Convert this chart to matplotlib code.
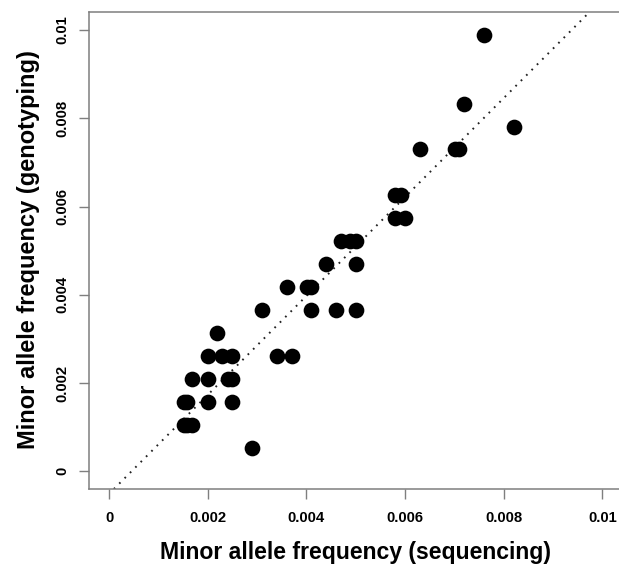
import matplotlib
matplotlib.use("Agg")
import matplotlib.pyplot as plt

# Genotyping minor allele counts (out of 1920 chromosomes) and sequencing MAF
geno_counts = [1,
               2, 2, 2,
               3, 3, 3, 3,
               4, 4, 4, 4,
               5, 5, 5, 5, 5,
               6,
               7, 7, 7, 7,
               8, 8, 8,
               9, 9,
               10, 10, 10,
               11, 11,
               12, 12,
               14, 14, 14,
               15, 16, 19]
seq_maf = [0.00289,
           0.00151, 0.00159, 0.00168,
           0.00151, 0.00159, 0.00200, 0.00250,
           0.00169, 0.00200, 0.00241, 0.00250,
           0.00200, 0.00229, 0.00250, 0.00340, 0.00370,
           0.00219,
           0.00309, 0.00409, 0.00460, 0.00500,
           0.00360, 0.00401, 0.00410,
           0.00440, 0.00500,
           0.00470, 0.00488, 0.00500,
           0.00580, 0.00600,
           0.00580, 0.00591,
           0.00630, 0.00701, 0.00710,
           0.00820, 0.00720, 0.00760]
n_chrom = 1920
geno_maf = [k / n_chrom for k in geno_counts]

fit_intercept = -0.00051
fit_slope = 1.121

tick_vals = [0, 0.002, 0.004, 0.006, 0.008, 0.01]
tick_labels = ["0", "0.002", "0.004", "0.006", "0.008", "0.01"]

xlabel = "Minor allele frequency (sequencing)"
ylabel = "Minor allele frequency (genotyping)"

plt.rcParams['font.family'] = ['Liberation Sans', 'DejaVu Sans']
plt.rcParams['font.weight'] = 'bold'

W, H = 619, 564
fig = plt.figure(figsize=(W / 100, H / 100), dpi=100)
left, right, top, bottom = 89.3, 622.2, 12.3, 489.0
ax = fig.add_axes([left / W, 1 - bottom / H, (right - left) / W, (bottom - top) / H])

ax.plot(seq_maf, geno_maf, linestyle='none', marker='o', markersize=11.3,
        markerfacecolor='black', markeredgewidth=0, color='black', zorder=3)
ax.axline((0, fit_intercept), slope=fit_slope, color='#222222', linewidth=1.4,
          linestyle=(0, (0.9, 3.0)), zorder=2)

ax.set_xlim(-0.0004, 0.0104)
ax.set_ylim(-0.0004, 0.0104)

ax.set_xticks(tick_vals)
ax.set_xticklabels(tick_labels, fontsize=10.7, fontweight='bold')
ax.set_yticks(tick_vals)
ax.set_yticklabels(tick_labels, fontsize=10.7, fontweight='bold',
                   rotation=90, va='center')

spine_col = '#7f7f7f'
for s in ax.spines.values():
    s.set_color(spine_col)
    s.set_linewidth(1.1)
ax.tick_params(axis='both', direction='out', length=7.2, width=1.0,
               color=spine_col, labelcolor='black')
ax.tick_params(axis='x', pad=8.3)
ax.tick_params(axis='y', pad=7.5)

fig.text(355.5 / W, 1 - 559.3 / H, xlabel, fontsize=16.6, fontweight='bold',
         ha='center', va='baseline')
fig.text(35.0 / W, 1 - 250.0 / H, ylabel, fontsize=17, fontweight='bold',
         ha='center', va='baseline', rotation=90, rotation_mode='anchor')

fig.savefig("out.png", dpi=100)
